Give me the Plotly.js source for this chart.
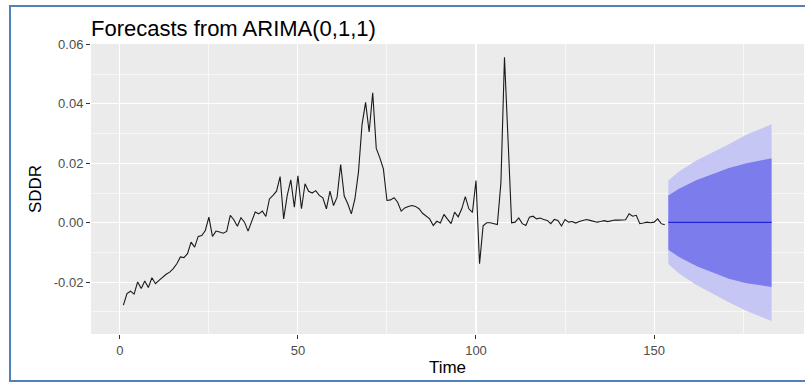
<!DOCTYPE html>
<html>
<head>
<meta charset="utf-8">
<script src="https://cdn.plot.ly/plotly-3.0.1.min.js"></script>
<style>
  html, body { margin: 0; padding: 0; background: #ffffff; }
  #wrap { position: relative; width: 806px; height: 385px; }
  #chart { width: 806px; height: 385px; }
  #frame { position: absolute; left: 9px; top: 5px; width: 794px; height: 373px;
           border: 2px solid #4F81BD; border-right: none; pointer-events: none; }
</style>
</head>
<body>
<div id="wrap">
  <div id="chart"></div>
  <div id="frame"></div>
</div>
<script>
// Observed series SDDR, t = 1..153
const sddr = [
  -0.0277, -0.0238, -0.0230, -0.0240, -0.0199, -0.0221, -0.0196, -0.0218, -0.0185, -0.0205,
  -0.0194, -0.0182, -0.0173, -0.0166, -0.0154, -0.0138, -0.0115, -0.0117, -0.0104, -0.0065,
  -0.0082, -0.0046, -0.0043, -0.0026,  0.0019, -0.0046, -0.0028, -0.0031, -0.0035, -0.0029,
   0.0025,  0.0010, -0.0012,  0.0017,  0.0002, -0.0028,  0.0002,  0.0036,  0.0030,  0.0039,
   0.0021,  0.0080,  0.0092,  0.0106,  0.0155,  0.0013,  0.0092,  0.0144,  0.0052,  0.0158,
   0.0047,  0.0131,  0.0106,  0.0100,  0.0108,  0.0092,  0.0084,  0.0047,  0.0106,  0.0058,
   0.0086,  0.0196,  0.0090,  0.0064,  0.0030,  0.0080,  0.0170,  0.0330,  0.0405,  0.0305,
   0.0437,  0.0250,  0.0218,  0.0181,  0.0075,  0.0077,  0.0084,  0.0069,  0.0039,  0.0050,
   0.0055,  0.0058,  0.0055,  0.0047,  0.0032,  0.0024,  0.0013, -0.0009,  0.0005, -0.0001,
   0.0028,  0.0012, -0.0003,  0.0036,  0.0020,  0.0047,  0.0088,  0.0047,  0.0035,  0.0142,
  -0.0138, -0.0010,  0.0000,  0.0000, -0.0003, -0.0006,  0.0135,  0.0556,  0.0280,  0.0000,
   0.0002,  0.0016, -0.0003, -0.0009,  0.0019,  0.0022,  0.0013,  0.0016,  0.0011,  0.0008,
  -0.0003,  0.0011,  0.0008, -0.0011,  0.0011,  0.0002,  0.0004, -0.0001,  0.0004,  0.0008,
   0.0011,  0.0008,  0.0004,  0.0002,  0.0004,  0.0007,  0.0004,  0.0007,  0.0009,  0.0009,
   0.0010,  0.0010,  0.0030,  0.0022,  0.0025, -0.0003, -0.0001,  0.0002,  0.0000,  0.0002,
   0.0013, -0.0003, -0.0007
];
const timeObs = sddr.map((v, i) => i + 1);

const fcTime = [154, 157, 162, 167, 171, 176, 181, 183];
const fcMean = [0.0001, 0.0001, 0.0001, 0.0001, 0.0001, 0.0001, 0.0001, 0.0001];
const hi95 = [0.0142, 0.0172, 0.0210, 0.0240, 0.0264, 0.0297, 0.0321, 0.0331];
const lo95 = [-0.0139, -0.0171, -0.0210, -0.0242, -0.0267, -0.0297, -0.0320, -0.0330];
const hi80 = [0.0092, 0.0114, 0.0144, 0.0167, 0.0184, 0.0200, 0.0211, 0.0217];
const lo80 = [-0.0091, -0.0115, -0.0146, -0.0169, -0.0188, -0.0203, -0.0212, -0.0216];

// Tick labels
const xTickVals = [0, 50, 100, 150];
const xTickText = ['0', '50', '100', '150'];
const xMinorVals = [25, 75, 125, 175];
const yTickVals = [-0.02, 0.00, 0.02, 0.04, 0.06];
const yTickText = ['-0.02', '0.00', '0.02', '0.04', '0.06'];
const yMinorVals = [-0.03, -0.01, 0.01, 0.03, 0.05];

function band(lo, hi) {
  return {
    x: fcTime.concat(fcTime.slice().reverse()),
    y: hi.concat(lo.slice().reverse())
  };
}
const b95 = band(lo95, hi95);
const b80 = band(lo80, hi80);

const FONT = 'Liberation Sans, Arial, sans-serif';

const traces = [
  { x: b95.x, y: b95.y, type: 'scatter', mode: 'lines', fill: 'toself',
    fillcolor: '#C6C6F5', line: { width: 0 }, hoverinfo: 'skip', showlegend: false },
  { x: b80.x, y: b80.y, type: 'scatter', mode: 'lines', fill: 'toself',
    fillcolor: '#7C7CEC', line: { width: 0 }, hoverinfo: 'skip', showlegend: false },
  { x: fcTime, y: fcMean, type: 'scatter', mode: 'lines',
    line: { color: '#2323D8', width: 1.3 }, showlegend: false },
  { x: timeObs, y: sddr, type: 'scatter', mode: 'lines',
    line: { color: '#1a1a1a', width: 1.1 }, showlegend: false }
];

const layout = {
  width: 806, height: 385,
  margin: { l: 91, r: 2, t: 44, b: 51 },
  paper_bgcolor: '#ffffff',
  plot_bgcolor: '#EBEBEB',
  font: { family: FONT },
  title: {
    text: 'Forecasts from ARIMA(0,1,1)',
    font: { family: FONT, size: 22, color: '#000000' },
    xref: 'paper', x: 0, xanchor: 'left',
    yref: 'container', y: 0.927, yanchor: 'middle'
  },
  xaxis: {
    range: [-8.1, 192.1],
    tickmode: 'array', tickvals: xTickVals, ticktext: xTickText,
    ticks: 'outside', ticklen: 4, tickwidth: 1, tickcolor: '#333333',
    tickfont: { family: FONT, size: 13, color: '#4D4D4D' },
    showgrid: true, gridcolor: '#ffffff', gridwidth: 1.1,
    minor: { tickmode: 'array', tickvals: xMinorVals, showgrid: true,
             gridcolor: '#ffffff', gridwidth: 0.6, ticks: '' },
    zeroline: false, showline: false,
    title: { text: 'Time', font: { family: FONT, size: 17, color: '#000000' }, standoff: 3 }
  },
  yaxis: {
    range: [-0.0374, 0.0601],
    tickmode: 'array', tickvals: yTickVals, ticktext: yTickText,
    ticks: 'outside', ticklen: 4, tickwidth: 1, tickcolor: '#333333',
    tickfont: { family: FONT, size: 13, color: '#4D4D4D' },
    showgrid: true, gridcolor: '#ffffff', gridwidth: 1.1,
    minor: { tickmode: 'array', tickvals: yMinorVals, showgrid: true,
             gridcolor: '#ffffff', gridwidth: 0.6, ticks: '' },
    zeroline: false, showline: false,
    title: { text: 'SDDR', font: { family: FONT, size: 17, color: '#000000' }, standoff: 7 }
  },
  showlegend: false
};

Plotly.newPlot('chart', traces, layout, { displayModeBar: false, staticPlot: true });
</script>
</body>
</html>
